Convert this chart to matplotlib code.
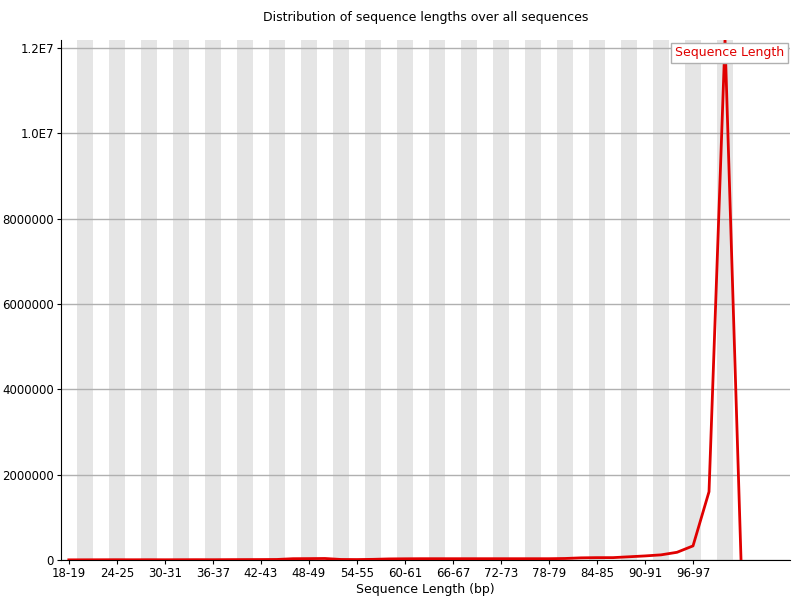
import matplotlib
matplotlib.use("Agg")
import matplotlib.pyplot as plt

categories = [f"{a}-{a+1}" for a in range(18, 104, 2)]  # 18-19 ... 102-103
counts = [3000, 4000, 5000, 6000, 5000, 6000, 5000, 6000, 7000, 6000,
          8000, 9000, 10000, 12000, 30000, 32000, 35000, 12000, 10000, 15000,
          25000, 28000, 30000, 30000, 30000, 30000, 30000, 30000, 30000, 30000,
          30000, 35000, 50000, 55000, 55000, 75000, 95000, 120000, 180000, 330000,
          1600000, 12200000, 0]
tick_labels = categories[::3][:14]

fig = plt.figure(figsize=(8, 6), dpi=100)
ax = fig.add_axes([0.076, 0.0667, 0.9115, 0.8666])
n_stripe = 42
for i in range(1, n_stripe, 2):
    ax.axvspan(i - 0.5, i + 0.5, color="#e5e5e5", lw=0, zorder=0)
ax.set_yticks([0, 2000000, 4000000, 6000000, 8000000, 10000000, 12000000])
ax.set_yticklabels(["0", "2000000", "4000000", "6000000", "8000000", "1.0E7", "1.2E7"])
ax.yaxis.grid(True, color="#b0b0b0", lw=1, zorder=1)
ax.plot(range(len(counts)), counts, color="#e00000", lw=2, zorder=3, label="Sequence Length")
ax.set_xticks(range(0, 42, 3))
ax.set_xticklabels(tick_labels)
ax.set_xlim(-0.5, 45.06)
ax.set_ylim(0, 12187000)
for s in ["top", "right"]:
    ax.spines[s].set_visible(False)
ax.tick_params(labelsize=8.5, length=3, pad=2)
ax.set_xlabel("Sequence Length (bp)", fontsize=9, labelpad=2)
ax.set_title("Distribution of sequence lengths over all sequences", fontsize=9, pad=14)
leg = ax.legend(loc="upper right", handlelength=0, handletextpad=0, fontsize=9,
                fancybox=False, framealpha=1, edgecolor="#b0b0b0",
                bbox_to_anchor=(1.0, 1.0), borderpad=0.3, borderaxespad=0.2)
for t in leg.get_texts():
    t.set_color("#e00000")
for h in leg.legend_handles:
    h.set_visible(False)
fig.savefig("out.png")
